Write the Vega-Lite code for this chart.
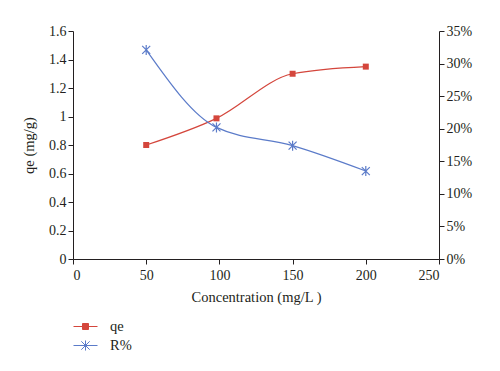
{
  "$schema": "https://vega.github.io/schema/vega-lite/v6.json",
  "autosize": {"type": "none"},
  "padding": {"left": 73, "top": 31, "right": 61, "bottom": 112},
  "width": 366,
  "height": 228,
  "background": "white",
  "config": {
    "view": {"stroke": null},
    "font": "Liberation Serif",
    "axis": {
      "domainColor": "#231f20",
      "tickColor": "#231f20",
      "labelColor": "#231f20",
      "titleColor": "#231f20",
      "labelFont": "Liberation Serif",
      "titleFont": "Liberation Serif",
      "labelFontSize": 14,
      "titleFontSize": 14.5,
      "titleFontWeight": "normal",
      "grid": false,
      "tickSize": 5
    },
    "legend": {"labelFont": "Liberation Serif", "labelFontSize": 14.5, "labelColor": "#231f20"}
  },
  "data": {
    "values": [
      {"series": "qe", "conc": 50, "value": 0.80},
      {"series": "qe", "conc": 98, "value": 0.987},
      {"series": "qe", "conc": 150, "value": 1.30},
      {"series": "qe", "conc": 200, "value": 1.35},
      {"series": "R%", "conc": 50, "value": 0.321},
      {"series": "R%", "conc": 98, "value": 0.202},
      {"series": "R%", "conc": 150, "value": 0.174},
      {"series": "R%", "conc": 200, "value": 0.135}
    ]
  },
  "encoding": {
    "x": {
      "field": "conc",
      "type": "quantitative",
      "scale": {"domain": [0, 250], "nice": false},
      "axis": {"values": [0, 50, 100, 150, 200, 250], "title": "Concentration (mg/L )", "titlePadding": 8, "labelPadding": 4}
    }
  },
  "layer": [
    {
      "transform": [{"filter": "datum.series === 'qe'"}],
      "encoding": {
        "y": {
          "field": "value",
          "type": "quantitative",
          "scale": {"domain": [0, 1.6], "nice": false},
          "axis": {"orient": "left", "values": [0, 0.2, 0.4, 0.6, 0.8, 1, 1.2, 1.4, 1.6], "format": ".2~f", "title": "qe (mg/g)", "titlePadding": 12}
        },
        "color": {
          "field": "series",
          "type": "nominal",
          "scale": {"domain": ["qe", "R%"], "range": ["#d4463c", "#5b7bc9"]},
          "legend": {
            "title": null,
            "orient": "none",
            "legendX": 0,
            "legendY": 283,
            "direction": "vertical",
            "symbolSize": 576,
            "symbolStrokeWidth": 1,
            "rowPadding": -4,
            "labelOffset": 12,
            "encode": {
              "symbols": {
                "update": {
                  "shape": {"signal": "datum.value === 'qe' ? 'M-1,0H1M-0.25,-0.25H0.25V0.25H-0.25Z' : 'M-1,0H1M-0.35,-0.35L0.35,0.35M-0.35,0.35L0.35,-0.35M0,-0.42V0.42'"},
                  "fill": {"scale": "color", "field": "value"},
                  "stroke": {"scale": "color", "field": "value"},
                  "strokeWidth": {"value": 1}
                }
              }
            }
          }
        }
      },
      "layer": [
        {"mark": {"type": "line", "interpolate": "monotone", "strokeWidth": 1.2}},
        {"mark": {"type": "point", "shape": "square", "filled": true, "size": 36, "opacity": 1}}
      ]
    },
    {
      "transform": [{"filter": "datum.series === 'R%'"}],
      "encoding": {
        "y": {
          "field": "value",
          "type": "quantitative",
          "scale": {"domain": [0, 0.35], "nice": false},
          "axis": {"orient": "right", "values": [0, 0.05, 0.1, 0.15, 0.2, 0.25, 0.3, 0.35], "format": ".0%", "title": null}
        },
        "color": {"field": "series", "type": "nominal"}
      },
      "layer": [
        {"mark": {"type": "line", "interpolate": "monotone", "strokeWidth": 1.2}},
        {"mark": {"type": "point", "shape": "M-0.8,-0.8L0.8,0.8M-0.8,0.8L0.8,-0.8M0,-1V1", "filled": false, "size": 100, "strokeWidth": 1.2, "opacity": 1}}
      ]
    }
  ],
  "resolve": {"scale": {"y": "independent"}}
}
